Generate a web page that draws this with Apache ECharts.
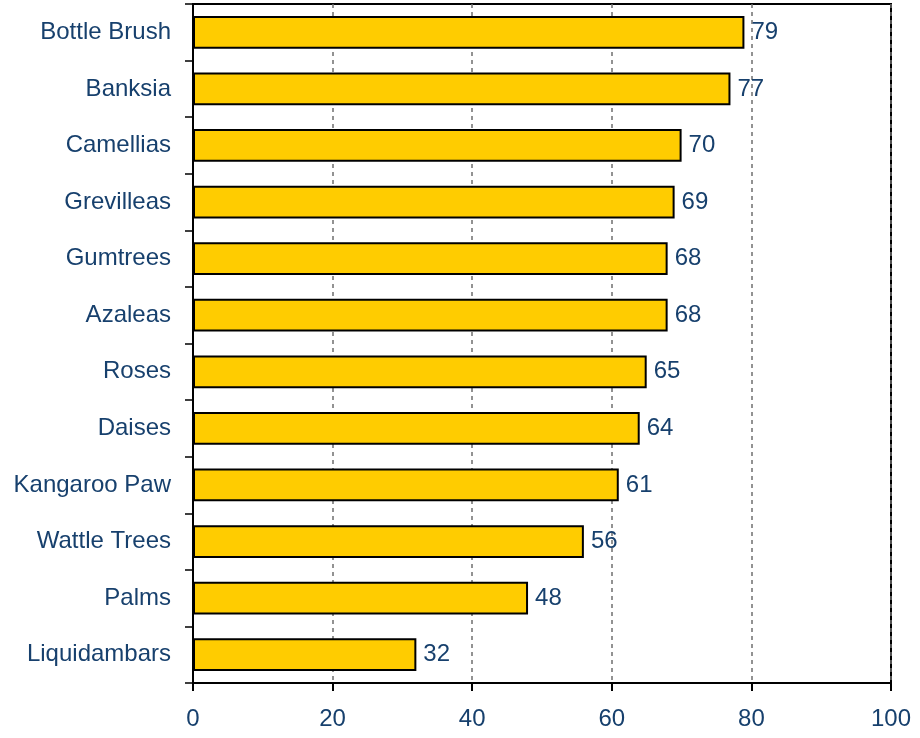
<!DOCTYPE html>
<html><head><meta charset="utf-8">
<script src="https://cdn.jsdelivr.net/npm/echarts@6/dist/echarts.min.js"></script>
<style>html,body{margin:0;padding:0;background:#fff}#c{width:920px;height:738px}</style>
</head><body><div id="c"></div>
<script>
var categories = ["Bottle Brush","Banksia","Camellias","Grevilleas","Gumtrees","Azaleas","Roses","Daises","Kangaroo Paw","Wattle Trees","Palms","Liquidambars"];
var values = [79,77,70,69,68,68,65,64,61,56,48,32];
var xTicks = [0,20,40,60,80,100];
var txt = '#17406d';
var ff = 'Liberation Sans, Arial, sans-serif';
var chart = echarts.init(document.getElementById('c'));
chart.setOption({
  animation:false,
  grid:{left:193,right:29,top:4,bottom:55,show:true,borderColor:'#000',borderWidth:2,backgroundColor:'transparent'},
  xAxis:{type:'value',min:xTicks[0],max:xTicks[xTicks.length-1],interval:20,
    axisLine:{show:true,lineStyle:{color:'#000',width:2}},
    axisTick:{show:true,length:8,lineStyle:{color:'#000',width:2}},
    axisLabel:{color:txt,fontSize:24,fontFamily:ff,margin:24},
    splitLine:{show:true,lineStyle:{color:'#6f6f6f',type:[4,4],width:1.5}}},
  yAxis:{type:'category',data:categories,inverse:true,
    axisLine:{show:true,lineStyle:{color:'#000',width:2}},
    axisTick:{show:true,length:8,lineStyle:{color:'#000',width:1.5}},
    axisLabel:{color:txt,fontSize:24,fontFamily:ff,margin:22}},
  series:[{type:'bar',data:values,barCategoryGap:'42%',
    itemStyle:{color:'#FFCC00',borderColor:'#000',borderWidth:2},
    label:{show:true,position:'right',distance:7,color:txt,fontSize:24,fontFamily:ff}}]
});
</script></body></html>
